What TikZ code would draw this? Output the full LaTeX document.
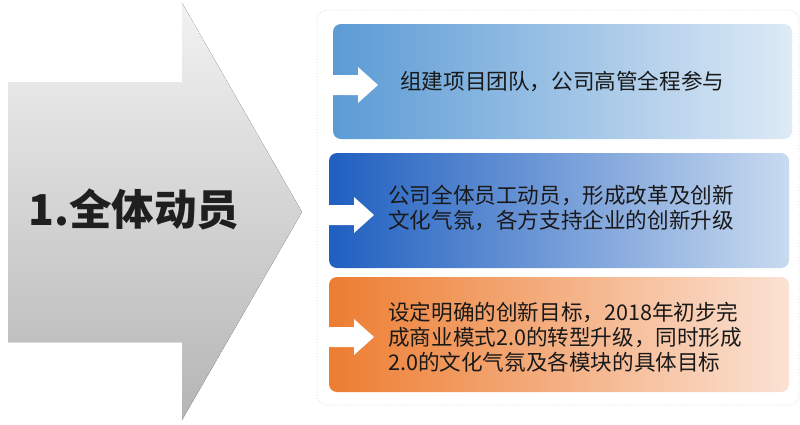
\documentclass[tikz,border=0pt]{standalone}
\usepackage{fontspec}
\setmainfont{Noto Sans CJK SC}
\usetikzlibrary{positioning}
\definecolor{skyblue}{HTML}{5B9BD5}
\definecolor{skypale}{HTML}{DEEAF6}
\definecolor{deepblue}{HTML}{1F5FC0}
\definecolor{deeppale}{HTML}{C9DAF0}
\definecolor{orangeleft}{HTML}{ED7D31}
\definecolor{orangepale}{HTML}{FBE2D4}

\begin{document}
\begin{tikzpicture}[
					x=1pt, y=-1pt,
					bar/.style={rounded corners=8pt, minimum width=459pt, minimum height=115pt, inner sep=0pt},
					say/.style={anchor=west, align=left, inner sep=0pt, text=black!90, font=\fontsize{21.6}{25}\selectfont}
					]
					\useasboundingbox (0,0) rectangle (800,424);
					\fill[top color=gray!10, bottom color=gray!58] (8,82) -- (182,82) -- (182,3) -- (302,212) -- (182,420) -- (182,342) -- (8,342) -- cycle;
					\node[anchor=west, inner sep=0pt, text=black!88, font=\bfseries\fontsize{42.5}{42.5}\selectfont] (title) at (28,209) {1.全体动员};
					\draw[gray!30, dotted, line width=0.8pt, rounded corners=10pt] (317,10) rectangle (799,405);
					\node[bar, minimum width=459pt, left color=skyblue, right color=skypale] (team) at (562.5,81.5) {};
					\node[bar, minimum width=460pt, left color=deepblue, right color=deeppale] (staff) at (559,210.5) {};
					\node[bar, minimum width=460pt, left color=orangeleft, right color=orangepale] (goal) at (559,334.5) {};
					\foreach \x/\y in {333/85, 329/215, 329/337}
						\fill[white] (\x,\y-10) -- ++(25,0) -- ++(0,-8) -- ++(20,18) -- ++(-20,18) -- ++(0,-8) -- ++(-25,0) -- cycle;
					\node[say] (teamtext) at (400,81) {组建项目团队，公司高管全程参与};
					\node[say] (stafftext) at (388,208) {公司全体员工动员，形成改革及创新\\文化气氛，各方支持企业的创新升级};
					\node[say] (goaltext) at (388,337) {设定明确的创新目标，2018年初步完\\成商业模式2.0的转型升级，同时形成\\2.0的文化气氛及各模块的具体目标};
				\end{tikzpicture}
\end{document}
